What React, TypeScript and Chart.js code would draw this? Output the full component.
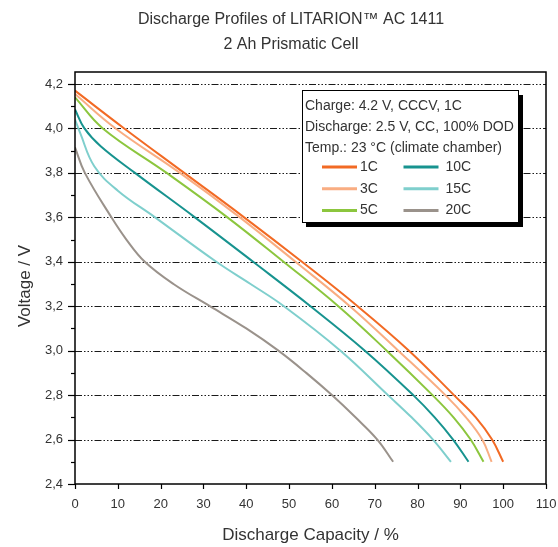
import React, { useEffect, useRef } from "react";
import { Chart, registerables } from "chart.js";

Chart.register(...registerables);

const TITLE_LINES = ["Discharge Profiles of LITARION™ AC 1411", "2 Ah Prismatic Cell"];
const X_TITLE = "Discharge Capacity / %";
const Y_TITLE = "Voltage / V";
const INFO_LINES = [
  "Charge: 4.2 V, CCCV, 1C",
  "Discharge: 2.5 V, CC, 100% DOD",
  "Temp.: 23 °C (climate chamber)",
];
const SERIES_LABELS = ["1C", "3C", "5C", "10C", "15C", "20C"];
const SERIES_COLORS = ["#f26a24", "#f9ad82", "#8cc63e", "#17938f", "#7fcfcd", "#9a928b"];

const X_MIN = 0;
const X_MAX = 110;
const X_STEP = 10;
const Y_MIN = 2.4;
const Y_MAX = 4.254;
const Y_GRID = [2.6, 2.8, 3.0, 3.2, 3.4, 3.6, 3.8, 4.0, 4.2];
const Y_TICKS = [2.4, 2.5, 2.6, 2.7, 2.8, 2.9, 3.0, 3.1, 3.2, 3.3, 3.4, 3.5, 3.6, 3.7, 3.8, 3.9, 4.0, 4.1, 4.2];

const C1: [number, number][] = [
  [0, 4.17], [11.5, 4.0], [25.5, 3.8], [39.5, 3.6], [53, 3.4], [66, 3.2], [78, 3.0],
  [88.5, 2.8], [93.6, 2.7], [97.4, 2.6], [100, 2.5],
];
const C3: [number, number][] = [
  [0, 4.155], [9.5, 4.0], [24.5, 3.8], [38.5, 3.6], [51.5, 3.4], [64.2, 3.2], [75.5, 3.0],
  [86.5, 2.8], [91.3, 2.7], [95.1, 2.6], [97.3, 2.5],
];
const C5: [number, number][] = [
  [0, 4.14], [6.5, 4.0], [21.4, 3.8], [35.6, 3.6], [48.7, 3.4], [61.5, 3.2], [72.8, 3.0],
  [83.5, 2.8], [88.4, 2.7], [92.4, 2.6], [95.4, 2.5],
];
const C10: [number, number][] = [
  [0, 4.085], [2.2, 4.0], [6, 3.92], [14, 3.8], [28, 3.6], [41.6, 3.4], [55, 3.2], [67.7, 3.0],
  [79, 2.8], [84, 2.7], [88.3, 2.6], [91.9, 2.5],
];
const C15: [number, number][] = [
  [0, 4.04], [1.2, 3.98], [4.5, 3.83], [10, 3.72], [18.7, 3.6], [33, 3.4], [41, 3.3], [48.8, 3.2],
  [62, 3.0], [73.1, 2.8], [78.6, 2.7], [83.6, 2.6], [87.8, 2.5],
];
const C20: [number, number][] = [
  [0, 3.915], [2.3, 3.8], [8.5, 3.6], [12, 3.5], [16.3, 3.4], [23, 3.3], [31.5, 3.2], [40, 3.1],
  [47.5, 3.0], [54, 2.9], [60, 2.8], [65.5, 2.7], [70.6, 2.6], [74.3, 2.5],
];
const SERIES = [C1, C3, C5, C10, C15, C20];

const FONT = "'Liberation Sans', Arial, Helvetica, sans-serif";
const TEXT = "#333333";

const decor = {
  id: "decor",
  beforeDatasetsDraw(chart: any) {
    const { ctx, chartArea: a, scales } = chart;
    const y = scales.y;
    ctx.save();
    ctx.strokeStyle = "#1a1a1a";
    ctx.lineWidth = 1.2;
    ctx.setLineDash([7, 2, 1.5, 2, 1.5, 2, 1.5, 2]);
    for (const v of Y_GRID) {
      const py = Math.round(y.getPixelForValue(v)) + 0.5;
      ctx.beginPath();
      ctx.moveTo(a.left, py);
      ctx.lineTo(a.right, py);
      ctx.stroke();
    }
    ctx.restore();
  },
  afterDatasetsDraw(chart: any) {
    const { ctx, chartArea: a, scales } = chart;
    const x = scales.x;
    const y = scales.y;
    ctx.save();
    ctx.strokeStyle = "#000";
    ctx.lineWidth = 1.5;
    ctx.setLineDash([]);
    ctx.strokeRect(a.left, a.top, a.right - a.left, a.bottom - a.top);
    ctx.lineWidth = 1.2;
    for (const v of Y_TICKS) {
      const major = Math.round(v * 10) % 2 === 0;
      const py = Math.round(y.getPixelForValue(v)) + 0.5;
      ctx.beginPath();
      ctx.moveTo(a.left - (major ? 7 : 4), py);
      ctx.lineTo(a.left, py);
      ctx.stroke();
    }
    for (let v = X_MIN; v <= X_MAX; v += X_STEP) {
      const px = Math.round(x.getPixelForValue(v)) + 0.5;
      ctx.beginPath();
      ctx.moveTo(px, a.bottom);
      ctx.lineTo(px, a.bottom + 5);
      ctx.stroke();
    }
    ctx.fillStyle = TEXT;
    ctx.font = `16px ${FONT}`;
    ctx.textAlign = "center";
    ctx.textBaseline = "middle";
    ctx.fillText(TITLE_LINES[0], 291, 20);
    ctx.fillText(TITLE_LINES[1], 291, 45);
    ctx.save();
    ctx.translate(25, 286);
    ctx.rotate(-Math.PI / 2);
    ctx.font = `17px ${FONT}`;
    ctx.fillText(Y_TITLE, 0, 0);
    ctx.restore();
    const bx = a.left + 227;
    const by = a.top + 18;
    const bw = 216;
    const bh = 132;
    ctx.fillStyle = "#000";
    ctx.fillRect(bx + 4, by + 5, bw + 1, bh);
    ctx.fillStyle = "#fff";
    ctx.fillRect(bx, by, bw, bh);
    ctx.strokeStyle = "#000";
    ctx.lineWidth = 1;
    ctx.strokeRect(bx + 0.5, by + 0.5, bw, bh);
    ctx.fillStyle = TEXT;
    ctx.font = `14px ${FONT}`;
    ctx.textAlign = "left";
    INFO_LINES.forEach((t, i) => ctx.fillText(t, bx + 3, by + 16 + i * 21.3));
    const ds = chart.data.datasets;
    ds.forEach((d: any, i: number) => {
      const col = Math.floor(i / 3);
      const row = i % 3;
      const lx = bx + 20 + col * 81.5;
      const ly = by + 77 + row * 21.7;
      ctx.strokeStyle = d.borderColor;
      ctx.lineWidth = 3;
      ctx.beginPath();
      ctx.moveTo(lx, ly);
      ctx.lineTo(lx + 35, ly);
      ctx.stroke();
      ctx.fillStyle = TEXT;
      ctx.fillText(d.label, lx + 38 + col * 4, ly);
    });
    ctx.restore();
  },
};

export default function App() {
  const ref = useRef<HTMLCanvasElement | null>(null);
  useEffect(() => {
    if (!ref.current) return;
    const chart = new Chart(ref.current, {
      type: "line",
      data: {
        datasets: SERIES.map((s, i) => ({
          label: SERIES_LABELS[i],
          data: s.map(([vx, vy]) => ({ x: vx, y: vy })),
          borderColor: SERIES_COLORS[i],
          backgroundColor: SERIES_COLORS[i],
          borderWidth: 2,
          pointRadius: 0,
          tension: 0.4,
          fill: false,
        })),
      },
      options: {
        animation: false,
        responsive: false,
        maintainAspectRatio: false,
        layout: { padding: { top: 72, right: 12, left: 0, bottom: 0 } },
        plugins: { legend: { display: false }, title: { display: false }, tooltip: { enabled: false } },
        scales: {
          x: {
            type: "linear",
            min: X_MIN,
            max: X_MAX,
            grid: { display: false, drawTicks: false },
            border: { display: false },
            ticks: { stepSize: X_STEP, padding: 13, color: TEXT, font: { family: FONT, size: 13 } },
            title: { display: true, text: X_TITLE, color: TEXT, font: { family: FONT, size: 17 }, padding: { top: 0, bottom: 1 } },
            afterFit: (s: any) => { s.height = 63; s.paddingLeft = 0; s.paddingRight = 0; },
          },
          y: {
            type: "linear",
            min: Y_MIN,
            max: Y_MAX,
            grid: { display: false, drawTicks: false },
            border: { display: false },
            afterBuildTicks: (s: any) => { s.ticks = Y_TICKS.map((v) => ({ value: v })); },
            ticks: {
              padding: 12,
              color: TEXT,
              font: { family: FONT, size: 13 },
              autoSkip: false,
              callback: (v: any) => {
                const n = Number(v);
                return Math.round(n * 10) % 2 === 0 ? n.toFixed(1).replace(".", ",") : "";
              },
            },
            title: { display: false },
            afterFit: (s: any) => { s.width = 75; s.paddingTop = 0; s.paddingBottom = 0; },
          },
        },
      },
      plugins: [decor],
    });
    return () => chart.destroy();
  }, []);
  return (
    <div style={{ position: "fixed", left: 0, top: 0, width: 558, height: 547, background: "#fff" }}>
      <canvas ref={ref} width={558} height={547} style={{ width: 558, height: 547 }} />
    </div>
  );
}
